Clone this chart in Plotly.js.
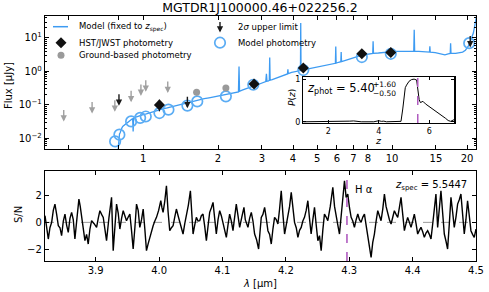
<!DOCTYPE html>
<html><head><meta charset="utf-8">
<script src="https://cdn.plot.ly/plotly-3.0.1.min.js"></script>
<style>html,body{margin:0;padding:0;background:#fff}#c{width:489px;height:292px}</style>
</head><body><div id="c"></div><script>
// ---- top panel: model spectrum (lambda um, flux uJy)
const modelLam = [0.790,0.796,0.800,0.804,0.808,0.812,0.818,0.823,0.830,0.838,0.846,0.858,0.870,0.885,0.898,0.908,0.912,0.916,0.935,0.955,0.975,1.000,1.030,1.060,1.095,1.130,1.170,1.210,1.250,1.290,1.330,1.366,1.410,1.460,1.510,1.560,1.620,1.690,1.760,1.840,1.930,2.030,2.130,2.230,2.330,2.415,2.428,2.440,2.500,2.570,2.650,2.730,2.800,2.880,2.960,3.040,3.110,3.128,3.145,3.190,3.213,3.225,3.237,3.300,3.400,3.500,3.600,3.700,3.800,3.815,3.830,3.950,4.080,4.200,4.285,4.296,4.308,4.400,4.550,4.700,4.900,5.100,5.300,5.550,5.750,5.920,5.940,5.960,6.100,6.225,6.245,6.265,6.500,6.890,7.090,7.300,7.600,8.000,8.360,8.390,8.420,8.810,9.300,9.800,10.30,10.80,11.30,11.80,12.22,12.27,12.32,12.80,13.50,14.13,14.18,14.23,14.90,15.60,16.30,16.80,17.12,17.18,17.24,18.00,18.50,19.20,19.70,20.20,20.70,21.20,21.70,22.0];
const modelFlux = [0.003,0.0073,0.011,0.0135,0.0145,0.017,0.019,0.021,0.023,0.0245,0.026,0.028,0.031,0.034,0.037,0.039,0.016,0.040,0.043,0.046,0.048,0.051,0.054,0.058,0.062,0.066,0.071,0.077,0.081,0.086,0.090,0.095,0.103,0.111,0.118,0.126,0.134,0.143,0.153,0.163,0.175,0.187,0.197,0.208,0.225,0.245,1.40,0.255,0.275,0.300,0.325,0.350,0.375,0.400,0.425,0.470,0.500,0.85,0.51,0.52,0.55,2.60,0.55,0.57,0.62,0.67,0.72,0.78,0.84,1.15,0.86,0.93,1.00,1.04,1.06,28,1.08,1.12,1.18,1.25,1.32,1.42,1.50,1.58,1.68,1.75,5.6,1.77,1.88,1.95,3.8,1.97,2.15,2.50,2.65,2.80,3.05,3.30,3.45,8.0,3.47,3.55,3.75,3.90,3.95,4.00,4.00,3.98,3.97,17.6,3.96,3.95,3.85,3.78,5.6,3.76,3.65,3.35,3.15,3.35,3.45,7.0,3.45,3.45,3.55,3.80,4.3,5.6,8.5,14,35,60];

// model photometry
const mphotLam = [0.772,0.803,0.895,0.973,1.025,1.163,1.264,1.506,1.65,2.15,2.77,4.40,7.56,9.88,20.4];
const mphotFlux = [0.0081,0.0129,0.032,0.041,0.045,0.057,0.072,0.095,0.127,0.18,0.40,1.1,2.69,3.37,7.0];

// HST/JWST detections
const hstLam = [1.163,2.79,4.40,7.56,9.88];
const hstFlux = [0.10,0.42,1.26,3.37,3.69];
const hstErrUp = [0.042,0.06,0.25,0.35,0.35];
const hstErrLo = [0.036,0.05,0.2,0.3,0.3];

// ground-based detections
const gbLam = [1.64,2.15];
const gbFlux = [0.24,0.32];
const gbErr = [0.05,0.06];

// 2 sigma upper limits
const ulHstLam = [0.80,1.506,20.6];
const ulHstFlux = [0.143,0.119,7.9];
const ulGbLam = [0.48,0.624,0.77,0.895,0.98,1.025,1.256];
const ulGbFlux = [0.048,0.083,0.094,0.18,0.28,0.37,0.34];

// inset: P(z)
const pzZ = [1.0,2.0,2.7,2.85,3.0,3.15,3.3,3.8,3.9,4.0,4.1,4.2,4.3,4.8,4.88,4.95,5.0,5.05,5.1,5.2,5.3,5.4,5.5,5.55,5.6,5.65,5.75,5.85,5.95,6.05,6.15,6.25,6.35,6.45,6.55,6.65,6.75,6.85,6.95,7.0];
const pzP = [0,0,0,0.015,0.02,0.01,0,0,0.02,0.025,0.01,0.015,0,0,0.01,0.3,0.6,0.8,0.86,0.95,0.99,1.0,0.98,0.8,0.52,0.45,0.48,0.42,0.38,0.33,0.28,0.26,0.2,0.16,0.12,0.08,0.03,0.01,0.04,0.06];
const zSpec = 5.5447;
const lamHa = 4.2964;

// bottom panel: S/N spectrum
const snLam = [3.8200,3.8226,3.8252,3.8278,3.8305,3.8331,3.8357,3.8384,3.8410,3.8436,3.8462,3.8489,3.8515,3.8541,3.8567,3.8594,3.8620,3.8646,3.8672,3.8704,3.8735,3.8756,3.8777,3.8804,3.8830,3.8856,3.8882,3.8909,3.8935,3.8975,3.9014,3.9040,3.9066,3.9093,3.9119,3.9145,3.9171,3.9210,3.9250,3.9276,3.9302,3.9329,3.9355,3.9381,3.9408,3.9434,3.9460,3.9486,3.9513,3.9539,3.9565,3.9591,3.9618,3.9644,3.9670,3.9696,3.9723,3.9749,3.9775,3.9801,3.9828,3.9854,3.9880,3.9906,3.9933,3.9959,3.9993,4.0027,4.0045,4.0063,4.0090,4.0116,4.0142,4.0168,4.0195,4.0221,4.0247,4.0273,4.0300,4.0326,4.0352,4.0378,4.0405,4.0431,4.0462,4.0494,4.0515,4.0536,4.0562,4.0588,4.0615,4.0641,4.0667,4.0693,4.0720,4.0746,4.0772,4.0798,4.0825,4.0851,4.0877,4.0903,4.0930,4.0956,4.0982,4.1008,4.1035,4.1061,4.1087,4.1113,4.1140,4.1166,4.1192,4.1218,4.1245,4.1271,4.1305,4.1339,
4.1360,4.1402,4.1428,4.1455,4.1481,4.1507,4.1538,4.1570,4.1591,4.1612,4.1638,4.1665,4.1691,4.1717,4.1744,4.1770,4.1796,4.1822,4.1849,4.1875,4.1901,4.1927,4.1954,4.1980,4.2006,4.2032,4.2059,4.2085,4.2111,4.2137,4.2164,4.2190,4.2216,4.2242,4.2268,4.2294,4.2321,4.2347,4.2373,4.2399,4.2426,4.2452,4.2479,4.2505,4.2531,4.2557,4.2583,4.2609,4.2636,4.2662,4.2701,4.2741,4.2768,4.2794,4.2820,4.2846,4.2886,4.2925,4.2951,4.2977,4.3004,4.3030,4.3056,4.3082,4.3109,4.3135,4.3161,4.3187,4.3214,4.3240,4.3266,4.3292,4.3319,4.3345,4.3371,4.3397,4.3424,4.3450,4.3476,4.3502,4.3529,4.3555,4.3581,4.3607,4.3634,4.3660,4.3686,4.3712,4.3739,4.3765,4.3791,4.3817,4.3844,4.3870,4.3896,4.3922,4.3949,4.3975,4.4001,4.4027,4.4054,4.4080,4.4106,4.4132,4.4159,4.4185,4.4211,4.4237,4.4264,4.4290,4.4329,4.4368,4.4395,4.4421,4.4447,4.4474,4.4500,4.4526,4.4552,4.4579,4.4605,4.4631,4.4657,4.4684,4.4710,4.4736,4.4762,4.4789,4.4815,4.4841,4.4867,4.4894,4.4920,4.4946,4.4972,4.5000];
const snVal = [0.5,-0.6,-1.25,-0.4,0,0.9,1.375,0.6,-0.25,-0.4,-1.0,0.1,0.625,-0.2,-0.75,0.3,0.75,0.2,-1.25,0.3,1.75,1.2,0.375,-0.6,-1.375,-0.9,-1.625,-0.5,0.125,-0.1,-0.375,0.3,0.875,0.6,0.375,-0.5,-1.375,0.4,1.875,-2.125,-0.2,1.375,0.7,-0.5,0.3,0.875,0.5,0.125,0.4,0.625,-0.6,-2.0,-0.4,1.375,0.9,-0.375,0.2,1.0,-0.5,-2.125,-1.6,-1.125,-0.6,-0.25,0.1,0.375,0.9,1.625,1.1,0.75,1.6,2.75,0.8,-0.625,-0.4,-0.25,0.4,1.0,0.5,0,-0.3,-0.875,-0.1,0.5,1.3,2.375,0.6,-0.875,-0.2,0.375,0.1,0.125,0.5,0.625,-0.3,-1.375,-0.3,0.75,1.1,1.5,0.3,-0.875,0.2,0.875,0.5,-0.125,-0.6,-1.125,-0.2,0.625,0.1,-0.625,0.4,1.375,0.5,-0.375,0.4,1.125,
0.2,-0.375,0.3,0.75,0.1,-0.875,-1.3,-2.0,-0.8,0.375,0.6,1.125,0.3,-0.625,-0.9,-1.625,-0.5,0.375,0.2,-0.125,1.0,2.375,0.6,-0.875,-0.2,0.375,1.2,2.25,0.8,0,-0.4,-1.125,-0.6,-0.375,0.1,0.375,0.9,1.625,0.3,-0.875,0.2,1.125,-0.2,-1.375,-1.0,-2.125,-0.6,0.625,0.4,0.125,1.2,2.625,1.2,0.375,-0.2,-0.875,1.0,3.125,1.875,2.125,1.1,0.375,0.1,-0.375,0.2,0.625,0.2,0,0.4,0.625,-0.2,-1.125,-1.8,-2.625,-1.5,-0.875,0.1,0.875,0.5,0.125,1.0,2.125,1.2,0.625,0.2,-0.125,0.4,0.875,0.6,0.375,1.1,1.875,0.6,-0.625,-0.1,0.375,0.0,-0.375,0.1,0.625,-0.1,-0.875,-0.6,-0.375,-0.7,-1.125,-0.8,-0.625,-0.9,-1.25,0.4,2.125,-0.375,0.9,2.375,0.7,-0.875,-1.4,-2.0,-0.1,1.875,0.8,-0.375,0.4,1.375,1.7,2.125,0.6,-0.875,0.2,1.625,0.5,-0.625,-0.9,-1.125,-0.5];

const F = 'DejaVu Sans';
const BLUE = '#3d9bf2';
const PURPLE = '#b05cc0';
const log10 = Math.log10;

const traces = [
  {x: modelLam, y: modelFlux, xaxis:'x', yaxis:'y', mode:'lines', line:{color:BLUE, width:1.3}},
  {x: mphotLam, y: mphotFlux, xaxis:'x', yaxis:'y', mode:'markers', marker:{symbol:'circle-open', size:10.5, color:'#5aacf4', line:{width:1.7, color:'#5aacf4'}}},
  {x: gbLam, y: gbFlux, xaxis:'x', yaxis:'y', mode:'markers', marker:{symbol:'circle', size:7, color:'#9a9a9a'},
   error_y:{type:'data', array: gbErr, color:'#9a9a9a', thickness:1.2, width:0}},
  {x: hstLam, y: hstFlux, xaxis:'x', yaxis:'y', mode:'markers', marker:{symbol:'diamond', size:8.5, color:'#111'},
   error_y:{type:'data', symmetric:false, array: hstErrUp, arrayminus: hstErrLo, color:'#111', thickness:1.2, width:0}},
  // inset
  {x: pzZ, y: pzP, xaxis:'x3', yaxis:'y3', mode:'lines', line:{color:'#000', width:1}},
  // bottom
  {x: snLam, y: snVal, xaxis:'x2', yaxis:'y2', mode:'lines', line:{color:'#000', width:1.4}},
  // legend symbols (overlay axes in pixel-like units)
  {x:[53,68], y:[26.7,26.7], xaxis:'x4', yaxis:'y4', mode:'lines', line:{color:BLUE, width:1.5}},
  {x:[61], y:[42.7], xaxis:'x4', yaxis:'y4', mode:'markers', marker:{symbol:'diamond', size:8.5, color:'#111'}},
  {x:[61], y:[55.3], xaxis:'x4', yaxis:'y4', mode:'markers', marker:{symbol:'circle', size:7, color:'#9a9a9a'}},
  {x:[220], y:[42.7], xaxis:'x4', yaxis:'y4', mode:'markers', marker:{symbol:'circle-open', size:10.5, color:'#5aacf4', line:{width:1.7, color:'#5aacf4'}}}
];
traces.forEach(t => { t.showlegend = false; t.hoverinfo = 'skip'; });

const ann = [];
function ulArrow(lam, f, col) {
  ann.push({xref:'x', yref:'y', x: log10(lam), y: log10(f), ax:0, ay:-13, yshift:-6, showarrow:true,
    arrowhead:2, arrowsize:0.9, arrowwidth:1.4, arrowcolor: col, text:''});
}
ulGbLam.forEach((l,i) => ulArrow(l, ulGbFlux[i], '#a0a0a0'));
ulHstLam.forEach((l,i) => ulArrow(l, ulHstFlux[i], '#1a1a1a'));

function txt(xref, yref, x, y, text, size, opts) {
  ann.push(Object.assign({xref, yref, x, y, text, showarrow:false, font:{family:F, size, color:'#000'}, xanchor:'left', yanchor:'middle'}, opts||{}));
}
// legend
txt('x4','y4',77,26.7,'Model (fixed to <i>z</i><sub>spec</sub>)',8.5);
txt('x4','y4',77,42.7,'HST/JWST photometry',8.5);
txt('x4','y4',77,55.3,'Ground-based photometry',8.5);
txt('x4','y4',236,26.7,'2<i>σ</i> upper limit',8.5);
txt('x4','y4',236,42.7,'Model photometry',8.5);
ann.push({xref:'x4', yref:'y4', x:220, y:32.5, axref:'x4', ayref:'y4', ax:220, ay:20.5, showarrow:true, arrowhead:2, arrowsize:0.9, arrowwidth:1.4, arrowcolor:'#1a1a1a', text:''});
// inset texts
txt('x4','y4',305,88.5,'<i>z</i><sub>phot</sub> = 5.40',11.5);
txt('x4','y4',371,84.5,'+1.60',7.5);
txt('x4','y4',371,93.5,'−0.50',7.5);
txt('x4','y4',292,98,'<i>P</i>(<i>z</i>)',9,{xanchor:'center', textangle:-90});
txt('x4','y4',378.5,140,'<i>z</i>',9.5,{xanchor:'center'});
// bottom panel texts
txt('paper','paper',(353-45)/431,(261-189)/245,'H α',10);
txt('paper','paper',(469-45)/431,(261-185.5)/245,'<i>z</i><sub>spec</sub> = 5.5447',10,{xanchor:'right'});
// axis titles
txt('paper','paper',-37/431,(261-86)/245,'Flux [µJy]',10,{xanchor:'center', textangle:-90});
txt('paper','paper',-27/431,(261-215)/245,'S/N',10,{xanchor:'center', textangle:-90});
txt('paper','paper',(260-45)/431,(261-283)/245,'<i>λ</i> [µm]',10,{xanchor:'center'});

const axBase = {showline:true, linecolor:'#000', linewidth:1.2, mirror:'allticks', ticks:'inside', ticklen:4, tickwidth:1, tickcolor:'#000',
  showgrid:false, zeroline:false, tickfont:{family:F, size:10, color:'#000'}, fixedrange:true};

const layout = {
  width:489, height:292,
  margin:{l:45, r:13, t:16, b:31},
  paper_bgcolor:'#fff', plot_bgcolor:'#fff',
  font:{family:F, size:10, color:'#000'},
  title:{text:'MGTDR1J100000.46+022256.2', font:{family:F, size:12.5, color:'#000'}, x:260/489, xref:'container', xanchor:'center', y:1-8/292, yref:'container', yanchor:'middle'},
  xaxis: Object.assign({}, axBase, {domain:[0,1], anchor:'y', type:'log', range:[-0.394,1.337],
    tickmode:'array', tickvals:[0.5,0.8,1,2,3,4,5,6,7,8,10,15,20], ticktext:['','','1','2','3','4','5','6','7','8','10','15','20']}),
  yaxis: Object.assign({}, axBase, {domain:[0.457,1], anchor:'x', type:'log', range:[-2.32,1.657],
    tickmode:'array', tickvals:[0.01,0.1,1,10], ticktext:['10<sup>−2</sup>','10<sup>−1</sup>','10<sup>0</sup>','10<sup>1</sup>'],
    minor:{ticks:'inside', ticklen:2, tickcolor:'#000', dtick:'D1'}}),
  xaxis2: Object.assign({}, axBase, {domain:[0,1], anchor:'y2', range:[3.82,4.5],
    tickmode:'array', tickvals:[3.9,4.0,4.1,4.2,4.3,4.4,4.5], ticktext:['3.9','4.0','4.1','4.2','4.3','4.4','4.5']}),
  yaxis2: Object.assign({}, axBase, {domain:[0,0.367], anchor:'x2', range:[-2.9,3.85],
    tickmode:'array', tickvals:[-2,0,2]}),
  xaxis3: Object.assign({}, axBase, {domain:[0.599,0.950], anchor:'y3', range:[1,7], ticklen:3,
    tickmode:'array', tickvals:[2,4,6], tickfont:{family:F, size:8, color:'#000'}}),
  yaxis3: Object.assign({}, axBase, {domain:[0.563,0.751], anchor:'x3', range:[-0.03,1.05], ticklen:3,
    tickmode:'array', tickvals:[0,1], tickfont:{family:F, size:8, color:'#000'}}),
  xaxis4: {overlaying:'x', anchor:'y4', range:[45,476], visible:false, fixedrange:true},
  yaxis4: {overlaying:'y', anchor:'x4', range:[149,16], visible:false, fixedrange:true},
  shapes:[
    {type:'line', xref:'x2 domain', yref:'y2', x0:0, x1:1, y0:0, y1:0, line:{color:'#999', width:1, dash:'dash'}, layer:'below'},
    {type:'line', xref:'x2', yref:'y2 domain', x0:lamHa, x1:lamHa, y0:0, y1:1, line:{color:PURPLE, width:1.6, dash:'dash'}},
    {type:'line', xref:'x3', yref:'y3 domain', x0:zSpec, x1:zSpec, y0:0, y1:1, line:{color:PURPLE, width:1.5, dash:'dash'}}
  ],
  annotations: ann
};

Plotly.newPlot('c', traces, layout, {staticPlot:true, displayModeBar:false});
</script></body></html>
